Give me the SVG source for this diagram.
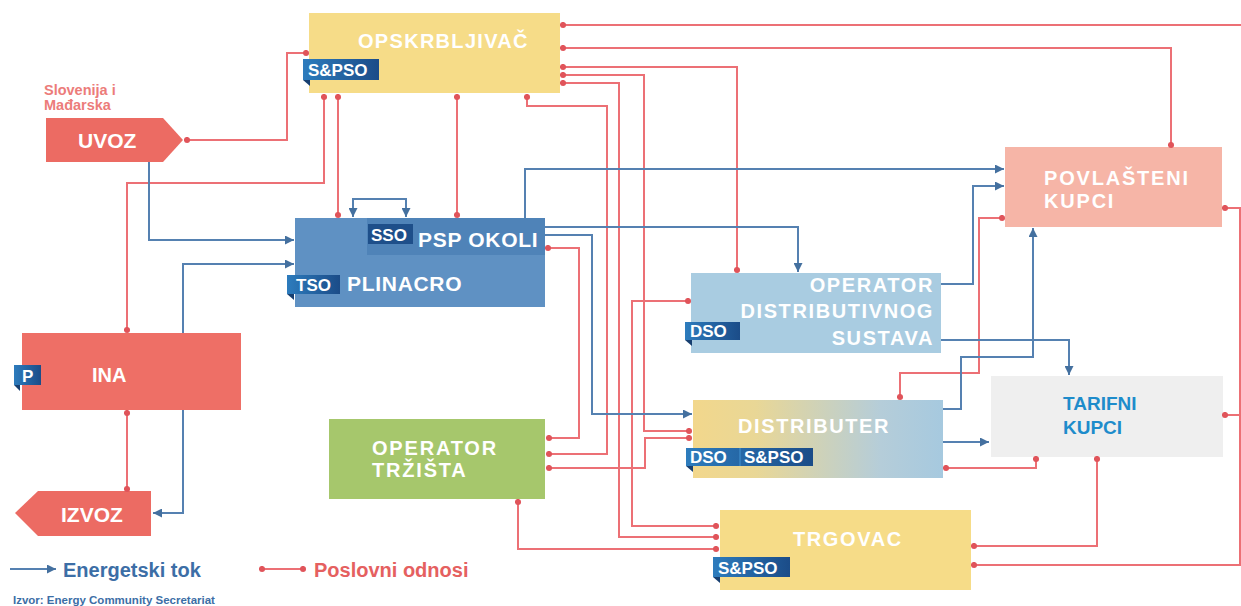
<svg xmlns="http://www.w3.org/2000/svg" width="1241" height="606" viewBox="0 0 1241 606">
<defs>
<linearGradient id="tagG" x1="0" y1="0" x2="1" y2="0"><stop offset="0" stop-color="#2D7CBD"/><stop offset="1" stop-color="#1B4C88"/></linearGradient>
<linearGradient id="distG" x1="0" y1="0" x2="1" y2="0"><stop offset="0" stop-color="#F2D78C"/><stop offset="0.25" stop-color="#E9D796"/><stop offset="0.75" stop-color="#B5CDD9"/><stop offset="1" stop-color="#A6C9DF"/></linearGradient>
<marker id="dot" viewBox="0 0 8 8" refX="4" refY="4" markerWidth="7" markerHeight="7" markerUnits="userSpaceOnUse"><circle cx="4" cy="4" r="3.5" fill="#E0545A"/></marker>
<marker id="arr" viewBox="0 0 10 10" refX="10" refY="5" markerWidth="9" markerHeight="9" markerUnits="userSpaceOnUse" orient="auto-start-reverse"><path d="M0,0 L10,5 L0,10 z" fill="#44709F"/></marker>
<style>
.lbl{font-family:"Liberation Sans",Arial,sans-serif;font-weight:bold;fill:#FFFFFF}
.tag{font-family:"Liberation Sans",Arial,sans-serif;font-weight:bold;fill:#FFFFFF;font-size:17px}
.fold{fill:#173F70}
.red{fill:none;stroke:#EC7075;stroke-width:2;marker-start:url(#dot);marker-end:url(#dot)}
.blue{fill:none;stroke:#5581B1;stroke-width:2;marker-end:url(#arr)}
</style>
</defs>
<rect width="1241" height="606" fill="#FFFFFF"/>

<g id="opskrbljivac">
<rect x="309" y="13" width="251" height="80" fill="#F6DC88"/>
<text class="lbl" x="358" y="48" font-size="20" letter-spacing="1.3">OPSKRBLJIVAČ</text>
<polygon class="fold" points="303,80 310,80 310,86"/>
<rect x="303" y="59" width="76" height="21" fill="url(#tagG)"/>
<text class="tag" x="308" y="76">S&amp;PSO</text>
</g>

<g id="uvoz">
<text x="44" y="95" font-family="Liberation Sans,Arial,sans-serif" font-weight="bold" font-size="14.5" fill="#EC7C7A">Slovenija i</text>
<text x="44" y="110" font-family="Liberation Sans,Arial,sans-serif" font-weight="bold" font-size="14.5" fill="#EC7C7A">Mađarska</text>
<polygon points="46,118 163,118 183,140 163,162 46,162" fill="#EC6B63"/>
<text class="lbl" x="78" y="148" font-size="21">UVOZ</text>
</g>

<g id="plinacro">
<rect x="295" y="218" width="250" height="89" fill="#5F91C3"/>
<rect x="367" y="218" width="178" height="37" fill="#4F83B8"/>
<rect x="368" y="224" width="45" height="20" fill="#1E4F8A"/>
<text class="tag" x="371" y="241">SSO</text>
<text class="lbl" x="418" y="247" font-size="21" letter-spacing="0.7">PSP OKOLI</text>
<polygon class="fold" points="287,294 294,294 294,300"/>
<rect x="287" y="275" width="53" height="19" fill="url(#tagG)"/>
<text class="tag" x="296" y="291">TSO</text>
<text class="lbl" x="347" y="291" font-size="21" letter-spacing="0.7">PLINACRO</text>
</g>

<g id="ina">
<rect x="22" y="333" width="219" height="77" fill="#EE6F66"/>
<polygon class="fold" points="14,385 20,385 20,391"/>
<rect x="14" y="365" width="27" height="20" fill="url(#tagG)"/>
<text class="tag" x="22" y="382" font-size="16">P</text>
<text class="lbl" x="92" y="382" font-size="20">INA</text>
</g>

<g id="izvoz">
<polygon points="15,513 38,491 151,491 151,536 38,536" fill="#EC6B63"/>
<text class="lbl" x="61" y="522" font-size="21">IZVOZ</text>
</g>

<g id="operator-trzista">
<rect x="329" y="419" width="216" height="80" fill="#A6C76C"/>
<text class="lbl" x="372" y="455" font-size="20" letter-spacing="1.8">OPERATOR</text>
<text class="lbl" x="372" y="477" font-size="20" letter-spacing="1.8">TRŽIŠTA</text>
</g>

<g id="operator-distributivnog">
<rect x="691" y="273" width="250" height="80" fill="#A9CCE1"/>
<text class="lbl" x="934" y="292" font-size="20" letter-spacing="1.6" text-anchor="end">OPERATOR</text>
<text class="lbl" x="934" y="318" font-size="20" letter-spacing="1.6" text-anchor="end">DISTRIBUTIVNOG</text>
<text class="lbl" x="934" y="345" font-size="20" letter-spacing="1.6" text-anchor="end">SUSTAVA</text>
<polygon class="fold" points="685,340 692,340 692,346"/>
<rect x="685" y="322" width="55" height="18" fill="url(#tagG)"/>
<text class="tag" x="690" y="337">DSO</text>
</g>

<g id="distributer">
<rect x="693" y="400" width="250" height="78" fill="url(#distG)"/>
<text class="lbl" x="738" y="433" font-size="20" letter-spacing="1.6">DISTRIBUTER</text>
<polygon class="fold" points="686,466 693,466 693,472"/>
<rect x="686" y="448" width="127" height="18" fill="url(#tagG)"/>
<line x1="740" y1="448" x2="740" y2="466" stroke="#3A86C4" stroke-width="1.5"/>
<text class="tag" x="690" y="463">DSO</text>
<text class="tag" x="744" y="463">S&amp;PSO</text>
</g>

<g id="tarifni-kupci">
<rect x="991" y="376" width="232" height="81" fill="#EFEFEF"/>
<text x="1063" y="410" font-family="Liberation Sans,Arial,sans-serif" font-weight="bold" font-size="19" fill="#1E8CCB">TARIFNI</text>
<text x="1063" y="434" font-family="Liberation Sans,Arial,sans-serif" font-weight="bold" font-size="19" fill="#1E8CCB">KUPCI</text>
</g>

<g id="povlasteni-kupci">
<rect x="1005" y="147" width="217" height="80" fill="#F6B5A7"/>
<text class="lbl" x="1044" y="185" font-size="20" letter-spacing="1.8">POVLAŠTENI</text>
<text class="lbl" x="1044" y="208" font-size="20" letter-spacing="1.8">KUPCI</text>
</g>

<g id="trgovac">
<rect x="720" y="510" width="251" height="80" fill="#F6DC88"/>
<text class="lbl" x="793" y="546" font-size="20" letter-spacing="1.6">TRGOVAC</text>
<polygon class="fold" points="713,577 720,577 720,583"/>
<rect x="713" y="557" width="77" height="20" fill="url(#tagG)"/>
<text class="tag" x="718" y="574">S&amp;PSO</text>
</g>

<g id="connectors">
<path class="red" d="M187,140 H287 V53 H306"/>
<path class="red" d="M324,97 V183 H127 V330"/>
<path class="red" d="M338,97 V215"/>
<path class="red" d="M457,97 V215"/>
<path class="red" d="M527,97 V106 H607 V454 H549"/>
<path class="red" d="M563,25 H1241" style="marker-end:none"/>
<path class="red" d="M563,48 H1171 V145"/>
<path class="red" d="M563,67 H737 V270"/>
<path class="red" d="M563,75 H644 V431 H689"/>
<path class="red" d="M563,83 H619 V537 H716"/>
<path class="red" d="M548,248 H579 V438 H549"/>
<path class="red" d="M688,301 H632 V526 H716"/>
<path class="red" d="M549,468 H645 V438 H689"/>
<path class="red" d="M518,502 V549 H716"/>
<path class="red" d="M1002,218 H979 V373 H900 V397"/>
<path class="red" d="M1036,459 V468 H946"/>
<path class="red" d="M1097,459 V546 H974"/>
<path class="red" d="M1225,208 H1240 V565 H974"/>
<path class="red" d="M1225,415 H1240" style="marker-end:none"/>
<path class="red" d="M127,413 V489"/>
<path class="blue" d="M149,162 V240 H294"/>
<path class="blue" d="M183,333 V264 H294"/>
<path class="blue" d="M183,410 V513 H153"/>
<path class="blue" d="M353,217 V199 H406 V217" style="marker-start:url(#arr)"/>
<path class="blue" d="M525,218 V169 H1004"/>
<path class="blue" d="M545,227 H798 V272"/>
<path class="blue" d="M545,235 H592 V414 H692"/>
<path class="blue" d="M941,284 H973 V186 H1004"/>
<path class="blue" d="M941,340 H1069 V375"/>
<path class="blue" d="M943,409 H961 V357 H1033 V228"/>
<path class="blue" d="M943,442 H989"/>
</g>

<g id="legend">
<path class="blue" d="M10,569 H56"/>
<text x="63" y="577" font-family="Liberation Sans,Arial,sans-serif" font-weight="bold" font-size="20" fill="#3C6EA6">Energetski tok</text>
<path class="red" d="M262,569 H303"/>
<text x="314" y="577" font-family="Liberation Sans,Arial,sans-serif" font-weight="bold" font-size="20" fill="#E5605F">Poslovni odnosi</text>
<text x="13" y="604" font-family="Liberation Sans,Arial,sans-serif" font-weight="bold" font-size="11.5" fill="#3C6EA6">Izvor: Energy Community Secretariat</text>
</g>
</svg>
